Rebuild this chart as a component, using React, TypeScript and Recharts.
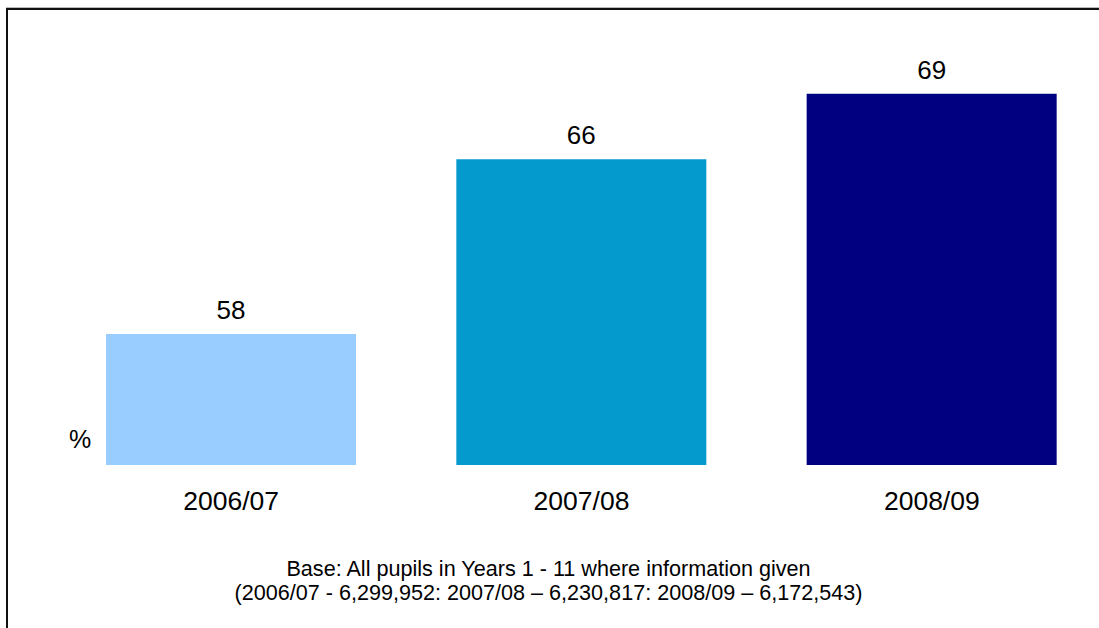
import { BarChart, Bar, XAxis, YAxis, Cell, LabelList } from 'recharts';

// school years and % values
const years = ['2006/07', '2007/08', '2008/09'];
const percents = [58, 66, 69];
const barColors = ['#99CCFF', '#059ACD', '#000080'];
const baseNotes = [
  'Base: All pupils in Years 1 - 11 where information given',
  '(2006/07 - 6,299,952: 2007/08 \u2013 6,230,817: 2008/09 \u2013 6,172,543)',
];

const data = years.map((year, i) => ({ year, value: percents[i] }));

const font = '"Liberation Sans", Arial, sans-serif';

const App = () => {
  return (
    <div
      style={{
        position: 'fixed',
        left: 0,
        top: 0,
        right: 0,
        bottom: 0,
        overflow: 'hidden',
        background: '#fff',
        fontFamily: font,
      }}
    >
      {/* frame: only top and left edges are in view in the original */}
      <div
        style={{
          position: 'absolute',
          left: 6,
          top: 8,
          width: 1200,
          height: 700,
          borderTop: '2px solid #111',
          borderLeft: '2px solid #111',
          boxShadow: '0 -1px 0 #bbb',
          boxSizing: 'border-box',
        }}
      />
      <div style={{ position: 'absolute', left: 8, top: 10 }}>
        <BarChart
          width={1120}
          height={520}
          data={data}
          margin={{ top: 62, right: 21, left: 48, bottom: 0 }}
        >
          <XAxis
            dataKey="year"
            axisLine={false}
            tickLine={false}
            height={65}
            tickMargin={20}
            tick={{ fill: '#000', fontSize: 26.5, fontFamily: font }}
          />
          <YAxis hide domain={[52, 70]} allowDataOverflow />
          <Bar dataKey="value" barSize={250} isAnimationActive={false}>
            {data.map((d, i) => (
              <Cell key={d.year} fill={barColors[i]} />
            ))}
            <LabelList
              dataKey="value"
              position="top"
              offset={15}
              style={{ fill: '#000', fontSize: 26, fontFamily: font }}
            />
          </Bar>
        </BarChart>
      </div>
      <div
        style={{
          position: 'absolute',
          left: 69,
          top: 425,
          fontSize: 25,
          lineHeight: '28px',
          color: '#000',
        }}
      >
        %
      </div>
      <div
        style={{
          position: 'absolute',
          left: 0,
          top: 557,
          width: 1097,
          textAlign: 'center',
          fontSize: 21.6,
          lineHeight: '24px',
          color: '#000',
        }}
      >
        {baseNotes.map((t) => (
          <div key={t}>{t}</div>
        ))}
      </div>
    </div>
  );
};

export default App;
